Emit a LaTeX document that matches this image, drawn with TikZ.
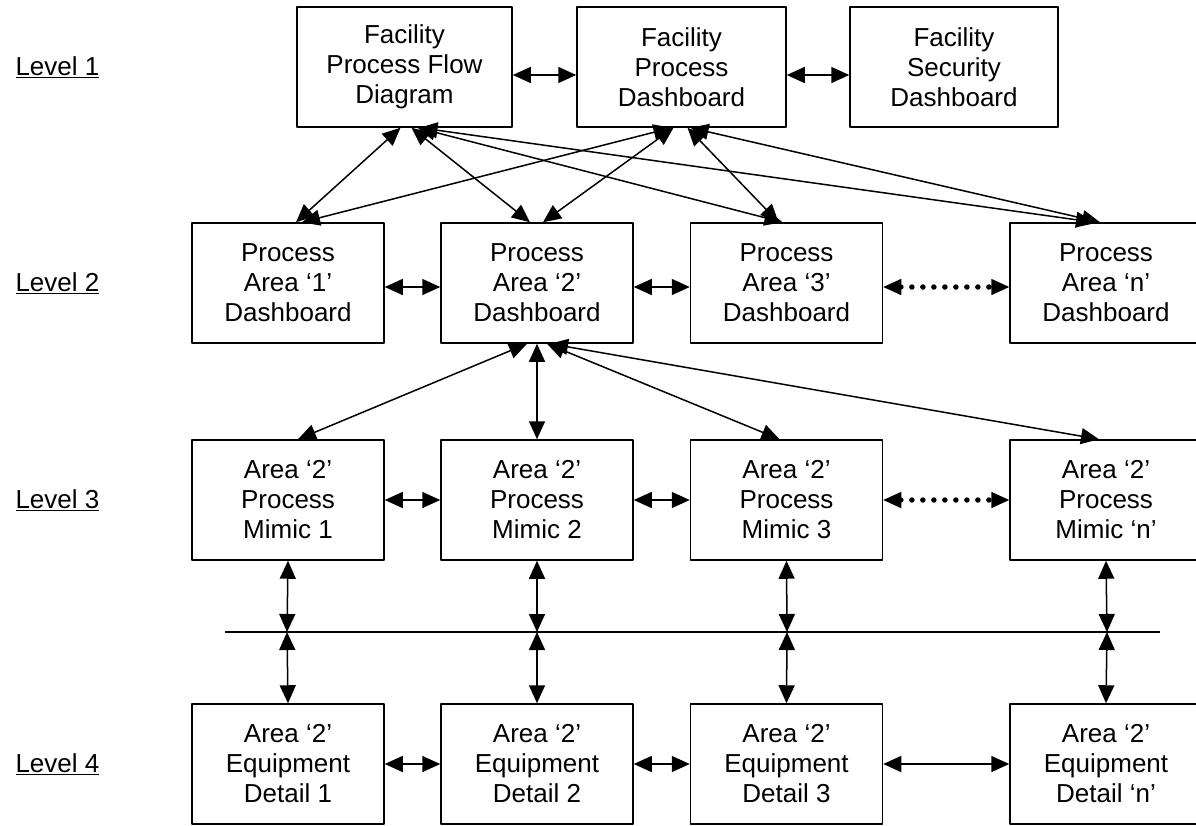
\documentclass[tikz,border=0pt]{standalone}
\usepackage{fontspec}
\setmainfont{Liberation Sans}
\usetikzlibrary{arrows.meta}
\begin{document}
\begin{tikzpicture}[x=1pt, y=-1pt, line join=round, font=\fontsize{26}{30}\selectfont,
		>={Triangle[length=18pt,width=16pt]},
		box/.style={draw, line width=1.5pt, align=center, minimum height=120pt, inner sep=0pt},
		link/.style={<->, line width=1.5pt},
		dotlink/.style={{Triangle[length=18pt,width=16pt,line width=1.5pt]}-{Triangle[length=18pt,width=16pt,line width=1.5pt]},
			line width=5.5pt, line cap=round, dash pattern=on 0pt off 11pt}]
	\useasboundingbox (0,0) rectangle (1196,825);
	% Level 1
	\node[box, minimum width=215pt] (fpfd) at (404.5,67) {Facility\\Process Flow\\Diagram};
	\node[box, minimum width=209pt] (fpd) at (681.5,67) {Facility\\Process\\Dashboard};
	\node[box, minimum width=208pt] (fsd) at (954,67) {Facility\\Security\\Dashboard};
	% Levels 2, 3 and 4
	\foreach \n/\x/\a/\m in {1/288/‘1’/1, 2/537/‘2’/2, 3/786.5/‘3’/3, 4/1106/‘n’/‘n’} {
		\node[box, minimum width=192pt] (pa\n) at (\x,283) {Process\\Area \a\\Dashboard};
		\node[box, minimum width=192pt] (pm\n) at (\x,500) {Area ‘2’\\Process\\Mimic \m};
		\node[box, minimum width=192pt] (pe\n) at (\x,764) {Area ‘2’\\Equipment\\Detail \m};
	}
	\foreach \l/\y in {1/67, 2/283, 3/500, 4/764}
		\node[anchor=west] (lv\l) at (12,\y) {\underline{Level \l}};
	% Links inside each level
	\draw[link] ([yshift=-8pt]fpfd.east) -- ([yshift=-8pt]fpd.west);
	\draw[link] ([yshift=-8pt]fpd.east) -- ([yshift=-8pt]fsd.west);
	\draw[link] ([yshift=-4pt]pa1.east) -- ([yshift=-4pt]pa2.west);
	\draw[link] ([yshift=-4pt]pa2.east) -- ([yshift=-4pt]pa3.west);
	\draw[dotlink] ([yshift=-4pt]pa3.east) -- ([yshift=-4pt]pa4.west);
	\draw[link] (pm1) -- (pm2);
	\draw[link] (pm2) -- (pm3);
	\draw[dotlink] (pm3) -- (pm4);
	\draw[link] (pe1) -- (pe2);
	\draw[link] (pe2) -- (pe3);
	\draw[link] (pe3) -- (pe4);
	% Level 1 to level 2
	\foreach \p/\a/\b in {pa1/-4pt/8pt, pa2/7pt/-7pt, pa3/13pt/-4pt, pa4/15pt/-12pt}
		\draw[link] ([xshift=\a]fpfd.south) -- ([xshift=\b]\p.north);
	\foreach \p/\a/\b in {pa1/-10pt/14pt, pa2/-8pt/6pt, pa3/6pt/-8pt, pa4/9pt/-6pt}
		\draw[link] ([xshift=\a]fpd.south) -- ([xshift=\b]\p.north);
	% Level 2 to level 3
	\foreach \p/\a/\b in {pm1/-10pt/10pt, pm2/0pt/0pt, pm3/10pt/-7pt, pm4/13pt/-7pt}
		\draw[link] ([xshift=\a]pa2.south) -- ([xshift=\b]\p.north);
	% Level 3 to level 4 across the bus line
	\coordinate (busL) at (225,632);
	\coordinate (busR) at (1160,632);
	\draw[line width=1.2pt] (busL) -- (busR);
	\foreach \n/\x in {1/287, 2/537, 3/787, 4/1107} {
		\coordinate (bus\n) at (\x,632);
		\draw[link] (pm\n.south) -- (bus\n);
		\draw[link] (bus\n) -- (pe\n.north);
	}
\end{tikzpicture}
\end{document}
